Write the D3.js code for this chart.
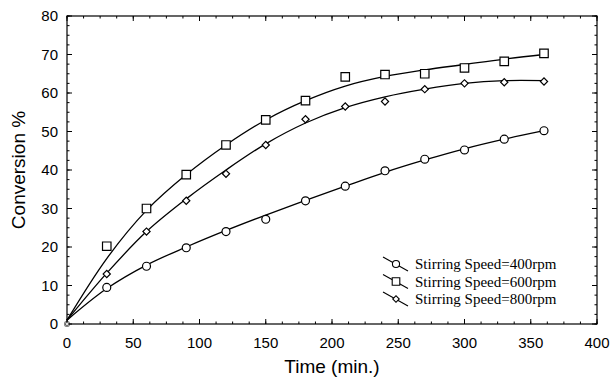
<!DOCTYPE html>
<html>
<head>
<meta charset="utf-8">
<script src="https://cdn.jsdelivr.net/npm/d3@7"></script>
<style>
  body { margin: 0; background: #fff; }
  svg { display: block; }
</style>
</head>
<body>
<div id="plot"></div>
<script>
var width = 613, height = 383;
var margin = {top: 16, right: 16, bottom: 59, left: 67};

// measured points (time in min, conversion %)
var times = [0, 30, 60, 90, 120, 150, 180, 210, 240, 270, 300, 330, 360];
var conv400 = [0, 9.5, 15.0, 19.8, 24.0, 27.2, 32.0, 35.8, 39.8, 42.8, 45.2, 48.0, 50.2];
var conv600 = [0, 20.2, 30.0, 38.8, 46.5, 53.0, 58.0, 64.2, 64.8, 65.0, 66.5, 68.2, 70.3];
var conv800 = [0, 13.0, 24.0, 32.0, 39.0, 46.5, 53.2, 56.5, 57.8, 61.0, 62.5, 62.8, 63.0];

// fitted curves
var fitTimes = [0, 30, 60, 90, 120, 150, 180, 210, 240, 270, 300, 330, 360];
var fit400 = [1, 9.2, 15.3, 20.0, 24.3, 28.3, 32.1, 35.8, 39.4, 42.6, 45.5, 48.0, 50.2];
var fit600 = [1, 17.0, 29.5, 38.8, 46.5, 53.0, 58.0, 61.8, 64.3, 66.0, 67.4, 68.8, 70.0];
var fit800 = [1, 13.2, 24.0, 32.5, 40.0, 46.8, 52.2, 56.2, 59.0, 61.0, 62.5, 63.2, 63.2];

var legendLabels = ["Stirring Speed=400rpm", "Stirring Speed=600rpm", "Stirring Speed=800rpm"];
var symbols = [d3.symbolCircle, d3.symbolSquare, d3.symbolSquare];
var symSizes = [50, 72, 26];
var symRotate = [0, 0, 45];

var xTicks = [0, 50, 100, 150, 200, 250, 300, 350, 400];
var yTicks = [0, 10, 20, 30, 40, 50, 60, 70, 80];

var series = legendLabels.map(function(l, i) {
  return {label: l, pts: [conv400, conv600, conv800][i], fit: [fit400, fit600, fit800][i],
          sym: symbols[i], size: symSizes[i], rot: symRotate[i]};
});

var svg = d3.select("#plot").append("svg")
    .attr("width", width)
    .attr("height", height);

var w = width - margin.left - margin.right,
    h = height - margin.top - margin.bottom;

var x = d3.scaleLinear().domain([0, 400]).range([0, w]);
var y = d3.scaleLinear().domain([0, 80]).range([h, 0]);

var g = svg.append("g")
    .attr("transform", "translate(" + margin.left + "," + margin.top + ")");

// frame
g.append("rect")
    .attr("width", w).attr("height", h)
    .attr("fill", "none").attr("stroke", "#000").attr("stroke-width", 1.2);

// inward ticks on all sides
var xMinor = d3.range(0, 400.1, 12.5), yMinor = d3.range(0, 80.1, 2.5);
function ticks(sel, vals, len, horiz) {
  vals.forEach(function(v) {
    if (horiz) {
      sel.append("line").attr("x1", x(v)).attr("x2", x(v)).attr("y1", h).attr("y2", h - len);
      sel.append("line").attr("x1", x(v)).attr("x2", x(v)).attr("y1", 0).attr("y2", len);
    } else {
      sel.append("line").attr("y1", y(v)).attr("y2", y(v)).attr("x1", 0).attr("x2", len);
      sel.append("line").attr("y1", y(v)).attr("y2", y(v)).attr("x1", w).attr("x2", w - len);
    }
  });
}
var tg = g.append("g").attr("stroke", "#000").attr("stroke-width", 1);
ticks(tg, xMinor, 2.5, true);
ticks(tg, yMinor, 2.5, false);
ticks(tg, xTicks, 5, true);
ticks(tg, yTicks, 5, false);

// tick labels
g.selectAll(".xl").data(xTicks).enter().append("text")
    .attr("x", function(d) { return x(d); })
    .attr("y", h + 24)
    .attr("text-anchor", "middle")
    .style("font-family", "Liberation Sans, Arial, sans-serif")
    .style("font-size", "15px")
    .text(function(d) { return d; });

g.selectAll(".yl").data(yTicks).enter().append("text")
    .attr("x", -9)
    .attr("y", function(d) { return y(d); })
    .attr("dy", "0.36em")
    .attr("text-anchor", "end")
    .style("font-family", "Liberation Sans, Arial, sans-serif")
    .style("font-size", "15px")
    .text(function(d) { return d; });

// axis titles
svg.append("text")
    .attr("x", margin.left + w / 2)
    .attr("y", 373)
    .attr("text-anchor", "middle")
    .style("font-family", "Liberation Sans, Arial, sans-serif")
    .style("font-size", "19px")
    .text("Time (min.)");

svg.append("text")
    .attr("transform", "translate(25," + (margin.top + h / 2) + ") rotate(-90)")
    .attr("text-anchor", "middle")
    .style("font-family", "Liberation Sans, Arial, sans-serif")
    .style("font-size", "19px")
    .text("Conversion %");

// fitted curves
var line = d3.line()
    .x(function(d) { return x(d[0]); })
    .y(function(d) { return y(d[1]); })
    .curve(d3.curveCatmullRom);

series.forEach(function(s) {
  g.append("path")
      .datum(fitTimes.map(function(t, i) { return [t, s.fit[i]]; }))
      .attr("fill", "none").attr("stroke", "#000").attr("stroke-width", 1.3)
      .attr("d", line);
});

// markers
series.forEach(function(s) {
  var sym = d3.symbol().type(s.sym).size(s.size);
  g.selectAll(null).data(times.map(function(t, i) { return [t, s.pts[i]]; }))
    .enter().append("path")
      .attr("transform", function(d) {
        return "translate(" + x(d[0]) + "," + y(d[1]) + ") rotate(" + s.rot + ")" + (d[0] === 0 ? " scale(0.5)" : "");
      })
      .attr("d", sym())
      .attr("fill", "#fff").attr("stroke", "#000").attr("stroke-width", 1.2);
});

// legend
var lg = svg.append("g").attr("transform", "translate(383,257)");
series.forEach(function(s, i) {
  var row = lg.append("g").attr("transform", "translate(0," + (i * 17.5) + ")");
  row.append("line").attr("x1", 0).attr("y1", 0).attr("x2", 25).attr("y2", 14)
      .attr("stroke", "#000").attr("stroke-width", 1.1);
  row.append("path")
      .attr("transform", "translate(13,7) rotate(" + s.rot + ")")
      .attr("d", d3.symbol().type(s.sym).size(s.size * 0.8)())
      .attr("fill", "#fff").attr("stroke", "#000").attr("stroke-width", 1.1);
  row.append("text")
      .attr("x", 32).attr("y", 12)
      .style("font-family", "Liberation Serif, Times New Roman, serif")
      .style("font-size", "15px")
      .text(s.label);
});
</script>
</body>
</html>
